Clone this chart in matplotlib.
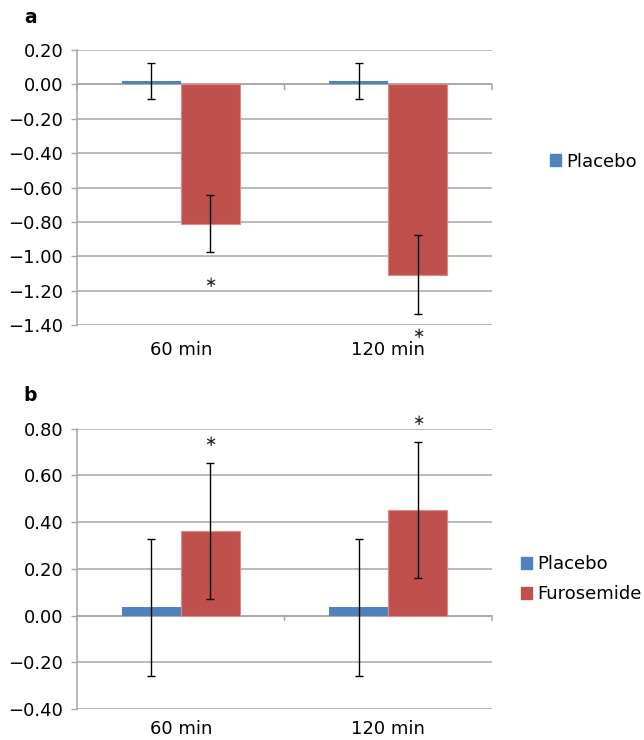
import numpy as np
import matplotlib
matplotlib.use("Agg")
from matplotlib import pyplot as plt
from matplotlib.patches import Patch

plt.rcParams["font.family"] = ["DejaVu Sans"]

categories = ["60 min", "120 min"]
series = ["Placebo", "Furosemide"]
colors = ["#4F81BD", "#C0504D"]

# panel a
a_placebo = [0.02, 0.02]
a_placebo_err = [0.107, 0.107]
a_furo = [-0.81, -1.107]
a_furo_err = [0.165, 0.23]
a_star_y = [-1.15, -1.45]
a_yticks = [-1.4, -1.2, -1.0, -0.8, -0.6, -0.4, -0.2, 0.0, 0.2]

# panel b
b_placebo = [0.035, 0.035]
b_placebo_err = [0.293, 0.293]
b_furo = [0.363, 0.451]
b_furo_err = [0.29, 0.292]
b_star_y = [0.744, 0.837]
b_yticks = [-0.4, -0.2, 0.0, 0.2, 0.4, 0.6, 0.8]

FS = 13
GRID = "#A6A6A6"
W = 0.284


def fmt(v):
    s = f"{v:.2f}"
    if s == "-0.00":
        s = "0.00"
    return s.replace("-", "\u2212")


def panel(ax, pla, pla_err, furo, furo_err, star_y, yticks, label_pad):
    centers = np.arange(len(categories)) + 0.5
    ax.bar(centers - W / 2, pla, W, color=colors[0], zorder=3)
    ax.bar(centers + W / 2, furo, W, color=colors[1], edgecolor="#D98C8A",
           linewidth=0.8, zorder=3)
    ax.errorbar(centers - W / 2, pla, yerr=pla_err, fmt="none", ecolor="black",
                elinewidth=1.0, capsize=2.8, capthick=1.0, zorder=4)
    ax.errorbar(centers + W / 2, furo, yerr=furo_err, fmt="none", ecolor="black",
                elinewidth=1.0, capsize=2.8, capthick=1.0, zorder=4)
    for c, s in zip(centers, star_y):
        ax.text(c + W / 2, s, r"$\ast$", ha="center", va="center", fontsize=10.5,
                color="#222222", zorder=5, clip_on=False)

    ax.set_xlim(0, len(categories))
    ax.set_ylim(yticks[0], yticks[-1])
    ax.set_yticks(yticks)
    ax.set_yticklabels([fmt(v) for v in yticks])
    ax.set_xticks(centers)
    ax.set_xticklabels(categories)
    ax.tick_params(axis="x", length=0, pad=label_pad, labelsize=FS)
    ax.tick_params(axis="y", length=4, width=1, color=GRID, pad=6, labelsize=FS)
    ax.yaxis.grid(True, color=GRID, linewidth=1.1, zorder=0)
    for sp in ["top", "right", "bottom"]:
        ax.spines[sp].set_visible(False)
    ax.spines["left"].set_color(GRID)
    ax.spines["left"].set_linewidth(1.1)
    # category axis crossing at zero with boundary ticks
    ax.axhline(0, color=GRID, linewidth=1.1, zorder=2)
    for xb in range(len(categories) + 1):
        ax.annotate("", xy=(xb, 0), xytext=(0, -5), textcoords="offset pixels",
                    arrowprops=dict(arrowstyle="-", color=GRID, lw=1.1,
                                    shrinkA=0, shrinkB=0), annotation_clip=False)


fig = plt.figure(figsize=(6.44, 7.4), dpi=100)
ax_a = fig.add_axes([0.1196, 0.5608, 0.6444, 0.3716])
ax_b = fig.add_axes([0.1196, 0.0419, 0.6444, 0.3788])

panel(ax_a, a_placebo, a_placebo_err, a_furo, a_furo_err, a_star_y, a_yticks, 11.5)
panel(ax_b, b_placebo, b_placebo_err, b_furo, b_furo_err, b_star_y, b_yticks, 8)

fig.text(0.038, 0.977, "a", fontsize=13.5, fontweight="bold", va="center")
fig.text(0.036, 0.466, "b", fontsize=13.5, fontweight="bold", va="center")

leg_kw = dict(frameon=False, fontsize=FS, handlelength=0.62, handleheight=0.62,
              handletextpad=0.3, borderpad=0, borderaxespad=0, labelspacing=0.68,
              loc="center left")
fig.legend(handles=[Patch(color=colors[0], label=series[0])],
           bbox_to_anchor=(0.854, 0.7815), **leg_kw)
fig.legend(handles=[Patch(color=c, label=s) for c, s in zip(colors, series)],
           bbox_to_anchor=(0.809, 0.2173), **leg_kw)

fig.savefig("out.png", dpi=100)
